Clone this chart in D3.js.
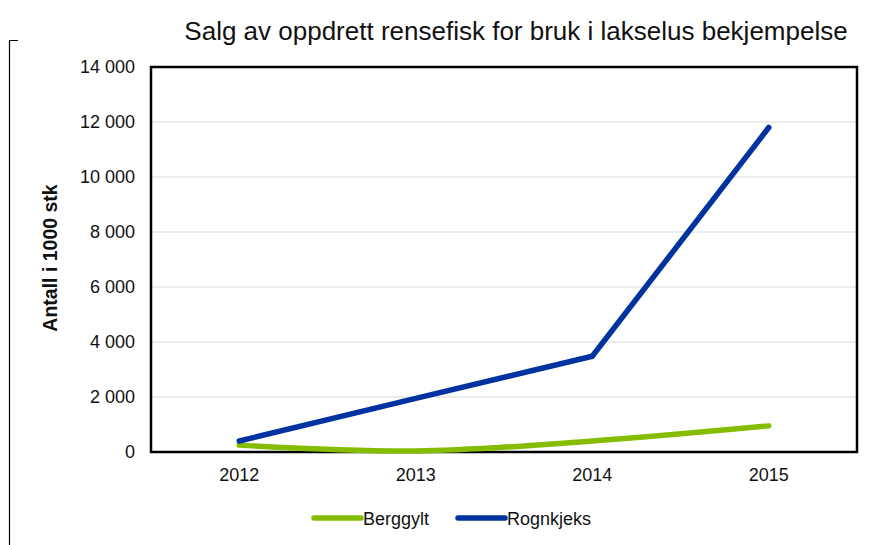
<!DOCTYPE html>
<html>
<head>
<meta charset="utf-8">
<script src="https://cdn.jsdelivr.net/npm/d3@7"></script>
<style>
  body { margin: 0; background: #fff; }
  text { font-family: "Liberation Sans", Arial, sans-serif; }
</style>
</head>
<body>
<svg id="chart"></svg>
<script>
// data
const years = ['2012', '2013', '2014', '2015'];
const berggylt = [250, 40, 400, 950];
const rognkjeks = [400, 1950, 3480, 11800];
const yTicks = [0, 2000, 4000, 6000, 8000, 10000, 12000, 14000];

const width = 880;
const height = 545;
const margin = { left: 151, right: 23, top: 67, bottom: 93 };
const visWidth = width - margin.left - margin.right;
const visHeight = height - margin.top - margin.bottom;

const svg = d3.select('#chart')
  .attr('width', width)
  .attr('height', height);

// odd bracket line at the left edge
svg.append('path')
  .attr('d', 'M18,40.5H9.5V545')
  .attr('fill', 'none')
  .attr('stroke', '#000')
  .attr('stroke-width', 1.2);

svg.append('text')
  .attr('x', 516)
  .attr('y', 40)
  .attr('text-anchor', 'middle')
  .attr('font-size', '26px')
  .attr('fill', '#111')
  .text('Salg av oppdrett rensefisk for bruk i lakselus bekjempelse');

const chart = svg.append('g')
  .attr('transform', `translate(${margin.left},${margin.top})`);

const x = d3.scaleBand().domain(years).range([0, visWidth]);
const y = d3.scaleLinear().domain([0, 14000]).range([visHeight, 0]);

const fmt = v => d3.format(',')(v).replace(/,/g, ' ');

// gridlines
chart.selectAll('.grid')
  .data(yTicks.slice(1, -1))
  .enter().append('line')
  .attr('x1', 0).attr('x2', visWidth)
  .attr('y1', d => y(d)).attr('y2', d => y(d))
  .attr('stroke', '#d9d9d9')
  .attr('stroke-width', 1);

// y axis labels
const yAxis = chart.append('g')
  .call(d3.axisLeft(y).tickValues(yTicks).tickFormat(fmt).tickSize(0).tickPadding(16));
yAxis.select('.domain').remove();
yAxis.selectAll('text').attr('font-size', '18px').attr('fill', '#111')
  .style('font-family', '"Liberation Sans", Arial, sans-serif');

// x axis labels
const xAxis = chart.append('g')
  .attr('transform', `translate(0,${visHeight})`)
  .call(d3.axisBottom(x).tickSize(0).tickPadding(16));
xAxis.select('.domain').remove();
xAxis.selectAll('text').attr('font-size', '18px').attr('fill', '#111')
  .style('font-family', '"Liberation Sans", Arial, sans-serif');

// frame
chart.append('rect')
  .attr('width', visWidth)
  .attr('height', visHeight)
  .attr('fill', 'none')
  .attr('stroke', '#000')
  .attr('stroke-width', 2.5);

const cx = d => x(d) + x.bandwidth() / 2;

const series = [
  { name: 'Berggylt', values: berggylt, color: '#84bd00', curve: d3.curveCatmullRom },
  { name: 'Rognkjeks', values: rognkjeks, color: '#0033a0', curve: d3.curveLinear },
];

series.forEach(s => {
  const line = d3.line()
    .x((d, i) => cx(years[i]))
    .y(d => y(d))
    .curve(s.curve);
  chart.append('path')
    .datum(s.values)
    .attr('d', line)
    .attr('fill', 'none')
    .attr('stroke', s.color)
    .attr('stroke-width', 5.5)
    .attr('stroke-linecap', 'round')
    .attr('stroke-linejoin', 'round');
});

// y axis title
svg.append('text')
  .attr('transform', 'translate(57,258) rotate(-90)')
  .attr('text-anchor', 'middle')
  .attr('font-size', '19.5px')
  .attr('font-weight', 'bold')
  .attr('fill', '#111')
  .text('Antall i 1000 stk');

// legend
const legend = svg.append('g').attr('transform', 'translate(312,518)');
const legendX = [0, 144];
series.forEach((s, i) => {
  const g = legend.append('g').attr('transform', `translate(${legendX[i]},0)`);
  g.append('line')
    .attr('x1', 2).attr('x2', 49)
    .attr('y1', 0).attr('y2', 0)
    .attr('stroke', s.color)
    .attr('stroke-width', 5.5)
    .attr('stroke-linecap', 'round');
  g.append('text')
    .attr('x', 51)
    .attr('y', 6.5)
    .attr('font-size', '18px')
    .attr('fill', '#111')
    .text(s.name);
});
</script>
</body>
</html>
